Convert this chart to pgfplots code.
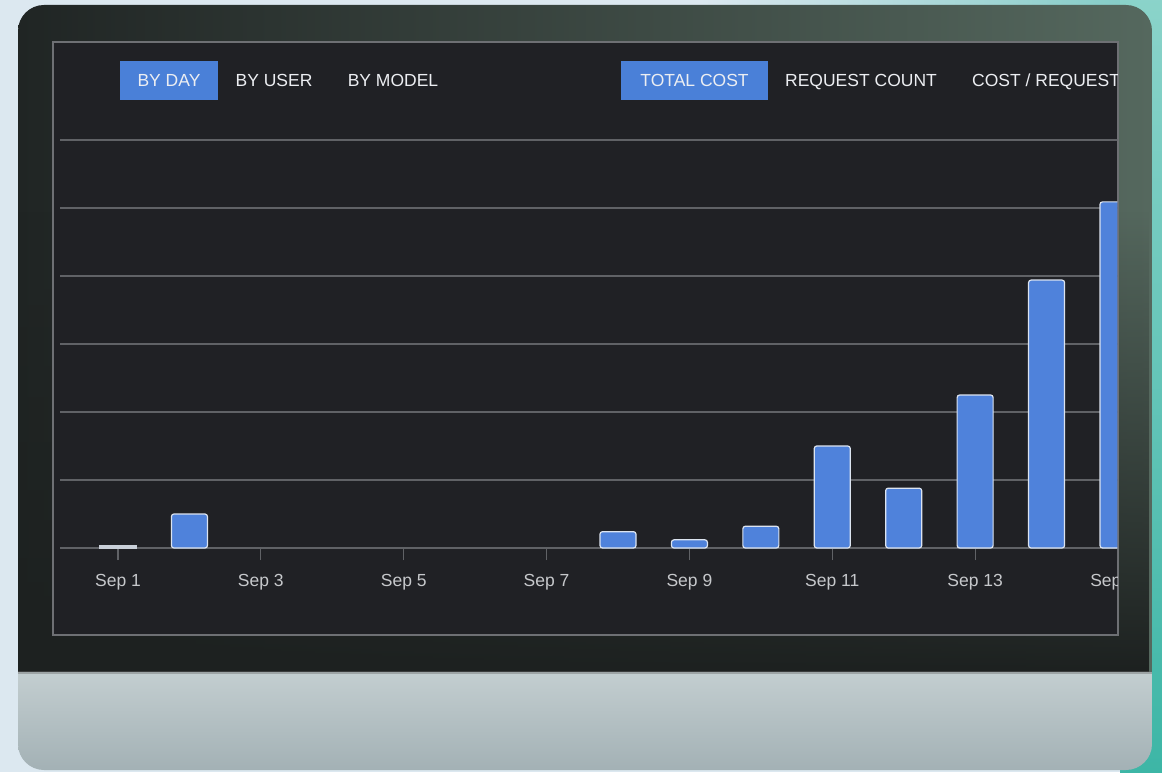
\documentclass[border=0pt]{standalone}
\usepackage{pgfplots}
\pgfplotsset{compat=1.18}
\usetikzlibrary{fadings}
\usepackage{fontspec}
\setmainfont{Liberation Sans}
\definecolor{bgl}{HTML}{DCE8F0}
\definecolor{teal}{HTML}{3DB6A6}
\definecolor{bezA}{HTML}{202524}
\definecolor{bezB}{HTML}{55685E}
\definecolor{chinA}{HTML}{C3CED0}
\definecolor{chinB}{HTML}{A3B1B5}
\definecolor{screen}{HTML}{202125}
\definecolor{scrline}{HTML}{6E7074}
\definecolor{btn}{HTML}{4A80D8}
\definecolor{btntxt}{HTML}{ECEEF2}
\definecolor{gridc}{HTML}{606266}
\definecolor{lab}{HTML}{C6C8CB}
\definecolor{barblue}{HTML}{4F82DB}
\definecolor{barline}{HTML}{DCE4F0}
\begin{document}
\begin{tikzpicture}[x=1pt,y=1pt]
\clip (0,0) rectangle (1162,772);
\fill[bgl] (0,0) rectangle (1162,772);
\shade[left color=bgl, right color=teal!60!bgl] (700,740) rectangle (1162,772);
\shade[top color=teal!60!white, bottom color=teal] (1120,0) rectangle (1162,772);
% monitor
\begin{scope}
\clip[rounded corners=26pt] (18,2) rectangle (1152,767);
\shade[left color=bezA, right color=bezB] (18,100) rectangle (1152,767);
\fill[bezA!90!black, path fading=north] (18,100) rectangle (1152,560);
\shade[top color=chinA, bottom color=chinB] (18,2) rectangle (1152,100);
\fill[black!60, opacity=0.4] (18,98) rectangle (1152,101);
\end{scope}
% screen
\fill[screen] (53,137) rectangle (1118,730);
\draw[scrline, line width=1.2pt] (53,137) rectangle (1118,730);
\begin{scope}
\clip (53.6,137.6) rectangle (1117.4,729.4);
\fill[btn] (120,672) rectangle (218,711);
\fill[btn] (621,672) rectangle (768,711);
\tikzset{bt/.style={text=btntxt, font=\fontsize{17.5}{20}\selectfont, text height=12.6pt, text depth=0pt, inner sep=0pt}}
\node[bt] at (169,691.5) {BY DAY};
\node[bt] at (274,691.5) {BY USER};
\node[bt] at (393,691.5) {BY MODEL};
\node[bt] at (694.5,691.5) {TOTAL COST};
\node[bt] at (861,691.5) {REQUEST COUNT};
\node[bt, anchor=west] at (972,691.5) {COST / REQUEST};
\begin{axis}[
  at={(60pt,224pt)}, anchor=south west,
  scale only axis, width=1058pt, height=408pt,
  xmin=0.188, xmax=15, ymin=0, ymax=6,
  enlargelimits=false,
  axis x line*=bottom, axis y line*=left,
  x axis line style={draw=gridc, line width=1.4pt},
  y axis line style={draw=none},
  ytick={0,1,...,6}, yticklabels={}, ytick style={draw=none},
  ymajorgrids, major grid style={draw=gridc, line width=1.2pt},
  xtick={1,3,5,7,9,11,13,15},
  xticklabels={Sep 1,Sep 3,Sep 5,Sep 7,Sep 9,Sep 11,Sep 13,Sep 15},
  tick align=outside, major tick length=12pt,
  xtick style={draw=gridc, line width=1.2pt},
  xticklabel style={font=\fontsize{17.5}{20}\selectfont, text=lab, yshift=-11pt},
  ybar, bar width=36pt,
]
\addplot[bar shift=0pt, fill=barblue, draw=barline!80!gray, line width=1.2pt]
  coordinates {(1,0.03)};
\addplot[bar shift=0pt, fill=barblue, draw=barline, line width=1.2pt, rounded corners=2.5pt]
  coordinates {(2,0.50) (8,0.24) (9,0.12) (10,0.32) (11,1.50) (12,0.88) (13,2.25) (14,3.94) (15,5.09)};
\end{axis}
\end{scope}
\end{tikzpicture}
\end{document}
